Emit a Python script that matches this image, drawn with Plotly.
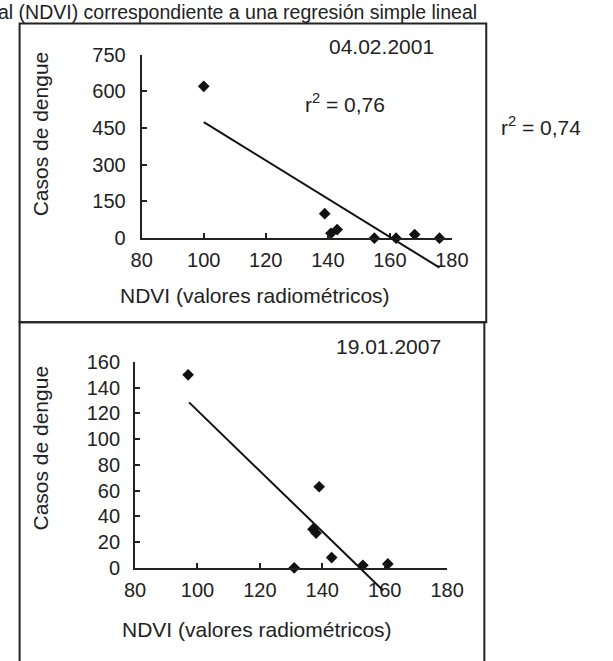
import plotly.graph_objects as go

# ---------------- data ----------------
ndvi_2001 = [100, 139, 141, 143, 155, 162, 168, 176]
casos_2001 = [620, 100, 20, 35, 0, 0, 15, 0]
trend_2001_slope = -7.82
trend_2001_intercept = 1256.0
trend_2001_x = [100, 176]

ndvi_2007 = [97, 131, 137, 138, 139, 143, 153, 161]
casos_2007 = [150, 0, 30, 27, 63, 8, 2, 3]
trend_2007_slope = -2.35
trend_2007_intercept = 357.2
trend_2007_x = [97.3, 159.5]

x_ticks = [80, 100, 120, 140, 160, 180]
y_ticks_2001 = [0, 150, 300, 450, 600, 750]
y_ticks_2007 = [0, 20, 40, 60, 80, 100, 120, 140, 160]

r2_2001 = "r<sup>2</sup> = 0,76"
r2_2007 = "r<sup>2</sup> = 0,74"
date_2001 = "04.02.2001"
date_2007 = "19.01.2007"
y_title = "Casos de dengue"
x_title = "NDVI (valores radiométricos)"
caption_tail = "al (NDVI) correspondiente a una regresión simple lineal"

# ---------------- layout helpers ----------------
W, H = 613, 661
FONT = "Liberation Sans, Arial, sans-serif"
FS = 20
FS_TEXT = 21
INK = "#222222"


def px(x):
    return x / W


def py(y):
    return 1 - y / H


trend_2001_y = [trend_2001_intercept + trend_2001_slope * x for x in trend_2001_x]
trend_2007_y = [trend_2007_intercept + trend_2007_slope * x for x in trend_2007_x]

# pixel frames of the two plot areas
top = dict(l=137, r=462, b=235, t=45, ymin=0, ymax=750, ext=150)
bot = dict(l=130, r=457, b=576, t=363, ymin=0, ymax=160, ext=30)


def ext_px(p):
    return p["ext"] * (p["b"] - p["t"]) / (p["ymax"] - p["ymin"])


axis_common = dict(
    showline=True, linewidth=2, linecolor=INK, ticks="inside", ticklen=5,
    tickwidth=2, tickcolor=INK, showgrid=False, zeroline=False,
    tickfont=dict(family=FONT, size=FS, color=INK), mirror=False,
)

fig = go.Figure()

fig.add_trace(go.Scatter(x=ndvi_2001, y=casos_2001, mode="markers", xaxis="x", yaxis="y",
                         marker=dict(symbol="diamond", size=9, color="#111"),
                         cliponaxis=False, showlegend=False))
fig.add_trace(go.Scatter(x=trend_2001_x, y=trend_2001_y, mode="lines", xaxis="x3", yaxis="y3",
                         line=dict(color="#111", width=2), showlegend=False))
fig.add_trace(go.Scatter(x=ndvi_2007, y=casos_2007, mode="markers", xaxis="x2", yaxis="y2",
                         marker=dict(symbol="diamond", size=9, color="#111"),
                         cliponaxis=False, showlegend=False))
fig.add_trace(go.Scatter(x=trend_2007_x, y=trend_2007_y, mode="lines", xaxis="x4", yaxis="y4",
                         line=dict(color="#111", width=2), showlegend=False))

layout = dict(
    width=W, height=H, margin=dict(l=0, r=0, t=0, b=0),
    paper_bgcolor="white", plot_bgcolor="rgba(0,0,0,0)", showlegend=False,
    font=dict(family=FONT, size=FS, color=INK),
    xaxis=dict(domain=[px(top["l"]), px(top["r"])], range=[80, 180], tickvals=x_ticks,
               anchor="y", ticklabelstandoff=3, **axis_common),
    yaxis=dict(domain=[py(top["b"]), py(top["t"])], range=[top["ymin"], top["ymax"]],
               tickvals=y_ticks_2001, anchor="x", ticklabelstandoff=10, **axis_common),
    xaxis2=dict(domain=[px(bot["l"]), px(bot["r"])], range=[80, 180], tickvals=x_ticks,
                anchor="y2", ticklabelstandoff=3, **axis_common),
    yaxis2=dict(domain=[py(bot["b"]), py(bot["t"])], range=[bot["ymin"], bot["ymax"]],
                tickvals=y_ticks_2007, anchor="x2", ticklabelstandoff=9, **axis_common),
    xaxis3=dict(domain=[px(top["l"]), px(top["r"])], range=[80, 180], anchor="y3", visible=False),
    yaxis3=dict(domain=[py(top["b"] + ext_px(top)), py(top["t"])],
                range=[top["ymin"] - top["ext"], top["ymax"]], anchor="x3", visible=False),
    xaxis4=dict(domain=[px(bot["l"]), px(bot["r"])], range=[80, 180], anchor="y4", visible=False),
    yaxis4=dict(domain=[py(bot["b"] + ext_px(bot)), py(bot["t"])],
                range=[bot["ymin"] - bot["ext"], bot["ymax"]], anchor="x4", visible=False),
)
fig.update_layout(**layout)


def note(text, x, y, xanchor="center", angle=0, size=FS_TEXT):
    fig.add_annotation(text=text, x=px(x), y=py(y), xref="paper", yref="paper",
                       xanchor=xanchor, yanchor="middle", showarrow=False, textangle=angle,
                       font=dict(family=FONT, size=size, color=INK))


note(caption_tail, 490, 1, xanchor="right", size=19.5)
note(date_2001, 388, 37)
note(r2_2001, 350, 95)
note(r2_2007, 555, 119)
note(y_title, 31, 127, angle=-90)
note(x_title, 256, 294)
note(date_2007, 396, 347)
note(y_title, 31, 452, angle=-90)
note(x_title, 258, 640)

# frames around the two panels
fig.add_shape(type="rect", xref="paper", yref="paper", x0=px(9), x1=px(498), y0=py(322), y1=py(13),
              line=dict(color=INK, width=2), fillcolor="rgba(0,0,0,0)", layer="below")
fig.add_shape(type="rect", xref="paper", yref="paper", x0=px(9), x1=px(496), y0=py(675), y1=py(322),
              line=dict(color=INK, width=2), fillcolor="rgba(0,0,0,0)", layer="below")

fig.write_html("out.html", config={"displayModeBar": False},
               post_script="document.body.style.margin='0';document.body.style.overflow='hidden';")
